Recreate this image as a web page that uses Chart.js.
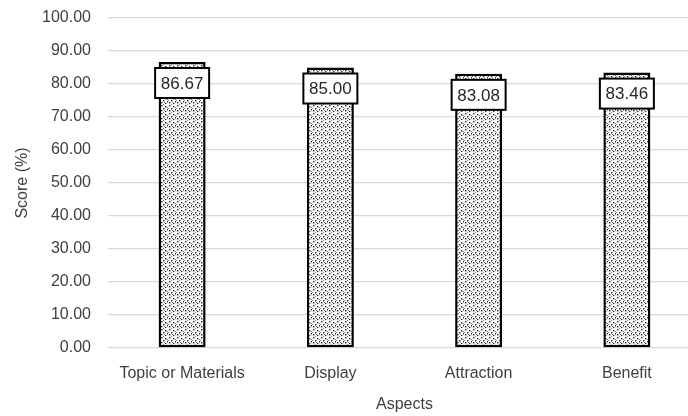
<!DOCTYPE html>
<html>
<head>
<meta charset="utf-8">
<script src="https://cdn.jsdelivr.net/npm/chart.js@4"></script>
<style>
  html, body { margin: 0; padding: 0; background: #fff; overflow: hidden; }
  #wrap { width: 702px; height: 416px; }
</style>
</head>
<body>
<div id="wrap"><canvas id="c" width="702" height="416"></canvas></div>
<script>
const categories = ['Topic or Materials', 'Display', 'Attraction', 'Benefit'];
const scores = [86.67, 85.00, 83.08, 83.46];
const yTicks = [0, 10, 20, 30, 40, 50, 60, 70, 80, 90, 100];

function makeDots() {
  const t = document.createElement('canvas');
  t.width = 8; t.height = 8;
  const g = t.getContext('2d');
  g.fillStyle = '#fff';
  g.fillRect(0, 0, 8, 8);
  g.fillStyle = '#222';
  [[1,1],[5,2],[3,4],[7,5],[1,6],[5,7]].forEach(([x,y]) => g.fillRect(x, y, 1.4, 1.4));
  g.fillStyle = '#777';
  [[3,0],[7,3],[0,4],[4,6]].forEach(([x,y]) => g.fillRect(x, y, 1, 1));
  return g.createPattern(t, 'repeat');
}
const ctx = document.getElementById('c').getContext('2d');
const pattern = makeDots();

const labelBoxes = {
  id: 'labelBoxes',
  afterDatasetsDraw(chart) {
    const c = chart.ctx;
    const meta = chart.getDatasetMeta(0);
    c.save();
    meta.data.forEach((bar, i) => {
      const w = 54, h = 30;
      const cx = bar.x, cy = bar.y + 21;
      c.fillStyle = '#fff';
      c.fillRect(cx - w / 2, cy - h / 2, w, h);
      c.strokeStyle = '#000';
      c.lineWidth = 2;
      c.strokeRect(cx - w / 2, cy - h / 2, w, h);
      c.fillStyle = '#262626';
      c.font = '17px "Liberation Sans", Arial, sans-serif';
      c.textAlign = 'center';
      c.textBaseline = 'middle';
      c.fillText(scores[i].toFixed(2), cx, cy + 1);
    });
    c.restore();
  }
};

new Chart(ctx, {
  type: 'bar',
  data: {
    labels: categories,
    datasets: [{
      data: scores,
      backgroundColor: pattern,
      borderColor: '#000',
      borderWidth: 2.5,
      borderSkipped: false,
      barPercentage: 0.317,
      categoryPercentage: 1
    }]
  },
  options: {
    responsive: false,
    animation: false,
    devicePixelRatio: 1,
    layout: { padding: { top: 18, right: 1, left: 0, bottom: 0 } },
    plugins: { legend: { display: false }, tooltip: { enabled: false } },
    scales: {
      x: {
        grid: { display: false, drawTicks: false },
        border: { display: false },
        ticks: { color: '#404040', font: { family: '"Liberation Sans", Arial, sans-serif', size: 16 }, padding: 16, maxRotation: 0, autoSkip: false },
        title: { display: true, text: 'Aspects', color: '#404040', font: { family: '"Liberation Sans", Arial, sans-serif', size: 16 }, padding: { top: 0, bottom: 2 } },
        afterFit(s) { s.height = 68; s.paddingLeft = 0; s.paddingRight = 0; }
      },
      y: {
        min: 0, max: 100,
        afterBuildTicks(s) { s.ticks = yTicks.map(v => ({ value: v })); },
        grid: { color: '#d9d9d9', lineWidth: 1.3, drawTicks: false },
        border: { display: false },
        ticks: { color: '#404040', font: { family: '"Liberation Sans", Arial, sans-serif', size: 16 }, padding: 17, callback: v => Number(v).toFixed(2) },
        title: { display: true, text: 'Score (%)', color: '#404040', font: { family: '"Liberation Sans", Arial, sans-serif', size: 16 }, padding: { top: 13, bottom: 0 } },
        afterFit(s) { s.width = 108; s.paddingTop = 0; s.paddingBottom = 0; }
      }
    }
  },
  plugins: [labelBoxes]
});
</script>
</body>
</html>
